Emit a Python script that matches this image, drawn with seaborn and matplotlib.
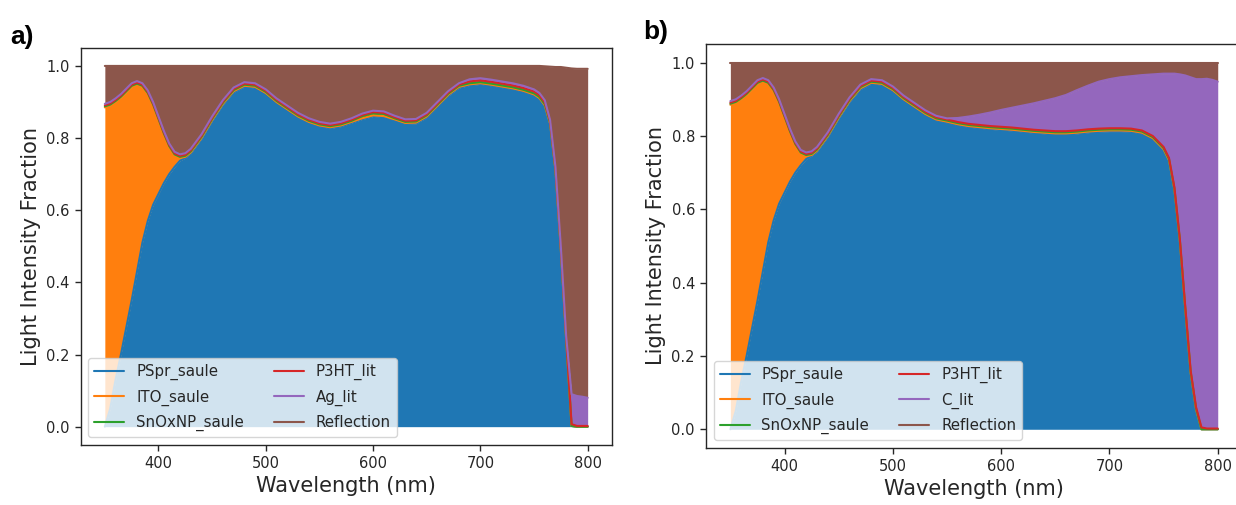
import numpy as np
import matplotlib
matplotlib.use("Agg")
import matplotlib.pyplot as plt
import seaborn as sns

# ---------------- data (layer fractions) ----------------
wavelength = [350, 355, 360, 365, 370, 375, 380, 385, 390, 395, 400, 405, 410, 415, 420,
              425, 430,
              440, 450, 460, 470, 480, 490, 500, 510, 520, 530, 540, 550, 560, 570, 580,
              590, 600, 610, 620, 630, 640, 650, 660, 670, 680, 690, 700, 710, 720, 730,
              740, 750,
              755, 760, 765, 770, 775, 780, 785, 790, 795, 800]

# shared front part (350-430 nm) of both devices
pspr_front = [0.0, 0.05, 0.13, 0.2, 0.275, 0.35, 0.43, 0.51, 0.57, 0.615, 0.645, 0.675,
              0.70, 0.72, 0.737, 0.745, 0.757]
ito_front = [0.885, 0.84, 0.77, 0.712, 0.652, 0.592, 0.518, 0.432, 0.352, 0.275, 0.205,
             0.135, 0.075, 0.032, 0.008, 0.003, 0.003]
refl_front = [0.105, 0.10, 0.09, 0.078, 0.063, 0.048, 0.042, 0.048, 0.068, 0.10, 0.14,
              0.18, 0.215, 0.238, 0.245, 0.242, 0.23]

# panel a
pspr_a = pspr_front + [0.797, 0.847, 0.892, 0.927, 0.942, 0.939, 0.922, 0.897, 0.877,
                       0.857, 0.842, 0.832, 0.827, 0.832, 0.842, 0.852, 0.86, 0.858,
                       0.849, 0.839, 0.84, 0.857, 0.887, 0.917, 0.939, 0.946, 0.949,
                       0.945, 0.94, 0.935, 0.928, 0.918,
                       0.908, 0.888, 0.837, 0.707, 0.487, 0.237, 0.002, 0.0, 0.0, 0.0]
ito_a = ito_front + [0.003] * 38 + [0.0] * 4
snox_a = [0.003] * 32 + [0.006] * 3 + [0.003] * 20 + [0.0] * 4
p3ht_a = [0.003] * 42 + [0.005] * 9 + [0.003] * 4 + [0.005, 0.002, 0.002, 0.002]
ag_a = [0.004] * 42 + [0.006] * 9 + [0.004] * 4 + [0.083, 0.083, 0.081, 0.078]
refl_a = refl_front + [0.19, 0.14, 0.095, 0.06, 0.045, 0.048, 0.065, 0.09, 0.11, 0.13,
                       0.145, 0.155, 0.16, 0.155, 0.145, 0.132, 0.124, 0.126, 0.138,
                       0.148, 0.147, 0.13, 0.10, 0.07, 0.048, 0.037, 0.034, 0.038, 0.043,
                       0.048, 0.055, 0.065,
                       0.075, 0.094, 0.148, 0.277, 0.497, 0.745, 0.903, 0.907, 0.909,
                       0.912]

# panel b
pspr_b = pspr_front + [0.797, 0.847, 0.892, 0.927, 0.942, 0.939, 0.922, 0.897, 0.877,
                       0.857, 0.842,
                       0.836, 0.829, 0.824, 0.821, 0.818, 0.816, 0.814, 0.811, 0.808,
                       0.806, 0.804, 0.804, 0.806, 0.809, 0.811, 0.812, 0.812, 0.811,
                       0.806, 0.791, 0.761,
                       0.731, 0.651, 0.511, 0.326, 0.151, 0.051, 0.0, 0.0, 0.0, 0.0]
ito_b = ito_front + [0.003] * 38 + [0.0] * 4
snox_b = [0.003] * 55 + [0.0] * 4
p3ht_b = [0.003] * 55 + [0.005, 0.002, 0.002, 0.002]
c_b = [0.004] * 28 + [0.003, 0.011, 0.02, 0.028, 0.037, 0.046, 0.054, 0.063, 0.072, 0.081,
                      0.09, 0.099, 0.11, 0.119, 0.128, 0.134, 0.139, 0.143, 0.151, 0.168,
                      0.2,
                      0.23, 0.31, 0.448, 0.63, 0.8, 0.895, 0.95, 0.954, 0.951, 0.946]
refl_b = refl_front + [0.19, 0.14, 0.095, 0.06, 0.045, 0.048, 0.065, 0.09, 0.11, 0.13,
                       0.145,
                       0.152, 0.151, 0.147, 0.142, 0.136, 0.129, 0.123, 0.117, 0.111,
                       0.104, 0.097, 0.088, 0.075, 0.063, 0.052, 0.045, 0.04, 0.037,
                       0.034, 0.032, 0.03,
                       0.03, 0.03, 0.032, 0.035, 0.04, 0.045, 0.045, 0.044, 0.047, 0.052]

labels_a = ["PSpr_saule", "ITO_saule", "SnOxNP_saule", "P3HT_lit", "Ag_lit", "Reflection"]
labels_b = ["PSpr_saule", "ITO_saule", "SnOxNP_saule", "P3HT_lit", "C_lit", "Reflection"]
layer_colors = ["#1f77b4", "#ff7f0e", "#2ca02c", "#d62728", "#9467bd", "#8c564b"]
panel_letters = ["a)", "b)"]
xticks = [400, 500, 600, 700, 800]
yticks = [0.0, 0.2, 0.4, 0.6, 0.8, 1.0]

# ---------------- style ----------------
sns.set_style("ticks")
plt.rcParams["font.family"] = ["DejaVu Sans"]
for key in ["text.color", "axes.labelcolor", "xtick.color", "ytick.color",
            "axes.edgecolor"]:
    plt.rcParams[key] = "#262626"

fig = plt.figure(figsize=(12.36, 5.05), dpi=100)
W, H = 1236, 505
ax_a = fig.add_axes([80.7 / W, 1 - 444.7 / H, 531.1 / W, 396.8 / H])
ax_b = fig.add_axes([706.0 / W, 1 - 447.6 / H, 536.1 / W, 403.3 / H])


def draw(ax, layers, labels):
    x = np.array(wavelength, dtype=float)
    cum = np.cumsum(np.array(layers, dtype=float), axis=0)
    lower = np.zeros_like(x)
    for upper, col in zip(cum, layer_colors):
        ax.fill_between(x, lower, upper, color=col, linewidth=0)
        lower = upper
    for upper, col, lab in zip(cum, layer_colors, labels):
        sns.lineplot(x=x, y=upper, ax=ax, color=col, linewidth=1.5, label=lab)
    ax.set_xlim(327.5, 822.5)
    ax.set_ylim(-0.05, 1.05)
    ax.set_xticks(xticks)
    ax.set_yticks(yticks)
    ax.set_yticklabels([f"{v:.1f}" for v in yticks])
    ax.tick_params(labelsize=10.5, length=4.5, width=1)
    ax.set_xlabel("Wavelength (nm)", fontsize=15)
    ax.set_ylabel("Light Intensity Fraction", fontsize=15)
    ax.legend(loc="lower left", ncol=2, fontsize=10.8, framealpha=0.8,
              edgecolor="0.8", fancybox=True, labelspacing=0.62)
    for s in ax.spines.values():
        s.set_linewidth(1.0)


draw(ax_a, [pspr_a, ito_a, snox_a, p3ht_a, ag_a, refl_a], labels_a)
draw(ax_b, [pspr_b, ito_b, snox_b, p3ht_b, c_b, refl_b], labels_b)

fig.text(10 / W, 1 - 37 / H, panel_letters[0], fontsize=19, fontweight="bold",
         family="Liberation Sans", color="black", ha="left", va="center")
fig.text(643 / W, 1 - 32 / H, panel_letters[1], fontsize=19, fontweight="bold",
         family="Liberation Sans", color="black", ha="left", va="center")

fig.savefig("out.png", dpi=100)
